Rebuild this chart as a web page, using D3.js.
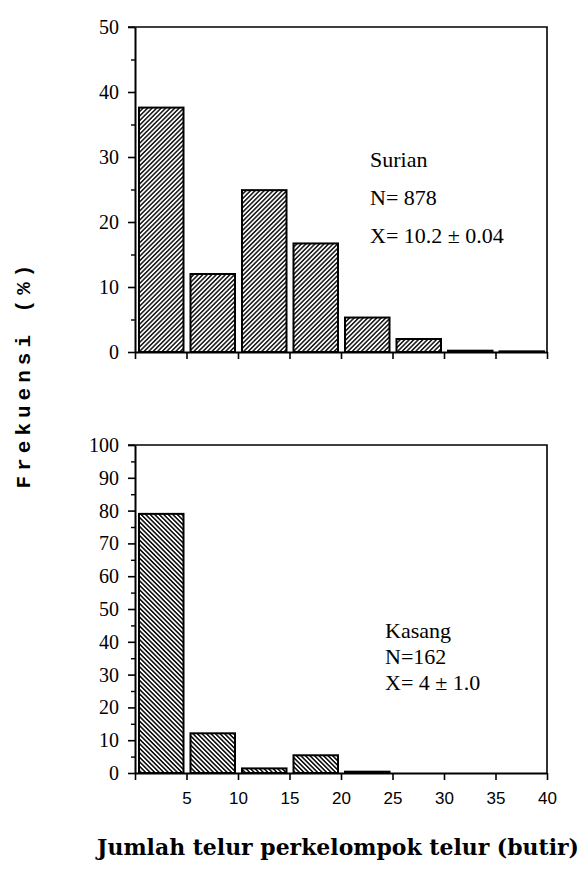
<!DOCTYPE html>
<html>
<head>
<meta charset="utf-8">
<script src="https://cdn.jsdelivr.net/npm/d3@7"></script>
<style>
  body { margin: 0; background: #fff; }
  svg { display: block; }
</style>
</head>
<body>
<svg id="chart" width="582" height="871"></svg>
<script>
// class edges (eggs per egg cluster)
const binEdges = [0, 5, 10, 15, 20, 25, 30, 35, 40];
const xTickLabels = ['', '5', '10', '15', '20', '25', '30', '35', '40'];

// frequency (%) per class
const surianValues = [37.6, 12.0, 24.9, 16.7, 5.3, 2.0, 0.2, 0.1];
const kasangValues = [79.0, 12.1, 1.4, 5.4, 0.4, 0, 0, 0];

const surianText = ['Surian', 'N= 878', 'X= 10.2 ± 0.04'];
const kasangText = ['Kasang', 'N=162', 'X= 4 ± 1.0'];

const svg = d3.select('#chart');

// hatching patterns
const defs = svg.append('defs');
function hatch(id, angle, w, sw) {
  defs.append('pattern')
    .attr('id', id)
    .attr('patternUnits', 'userSpaceOnUse')
    .attr('width', w)
    .attr('height', w)
    .attr('patternTransform', `rotate(${angle})`)
    .append('line')
    .attr('x1', w / 2).attr('y1', 0)
    .attr('x2', w / 2).attr('y2', w)
    .attr('stroke', '#000')
    .attr('stroke-width', sw);
}
hatch('fwd', 45, 3.2, 1.4);
hatch('back', -45, 3.2, 1.5);

const x = d3.scaleLinear().domain([0, 40]).range([135, 547]);

function panel(opts) {
  const { values, yMax, yRange, majors, minors, pattern, labels, labelPos, showXLabels } = opts;
  const y = d3.scaleLinear().domain([0, yMax]).range(yRange);
  const g = svg.append('g');

  // frame (top and right edges)
  g.append('path')
    .attr('d', `M${x(0) - 7},${y(yMax)} H${x(40)} V${y(0)}`)
    .attr('fill', 'none')
    .attr('stroke', '#000')
    .attr('stroke-width', 1.6);

  // bars
  g.selectAll('.bar')
    .data(values)
    .enter().append('rect')
    .attr('class', 'bar')
    .attr('x', (d, i) => x(binEdges[i]) + 4)
    .attr('width', (d, i) => x(binEdges[i + 1]) - x(binEdges[i]) - 7)
    .attr('y', d => y(d))
    .attr('height', d => y(0) - y(d))
    .attr('fill', `url(#${pattern})`)
    .attr('stroke', '#000')
    .attr('stroke-width', d => d > 0 ? 2 : 0);

  // y axis, major + minor ticks
  const yAxis = g.append('g')
    .attr('transform', `translate(${x(0)},0)`)
    .call(d3.axisLeft(y).tickValues(majors).tickSize(7).tickPadding(9).tickSizeOuter(0));
  yAxis.select('.domain').attr('stroke-width', 2);
  yAxis.selectAll('.tick line').attr('stroke-width', 1.6);
  yAxis.selectAll('text')
    .style('font-family', '"Liberation Serif", serif')
    .style('font-size', '20px')
    .attr('fill', '#000');

  g.append('g')
    .attr('transform', `translate(${x(0)},0)`)
    .call(d3.axisLeft(y).tickValues(minors).tickSize(4).tickFormat('').tickSizeOuter(0))
    .call(a => a.select('.domain').remove())
    .selectAll('.tick line').attr('stroke-width', 1.4);

  // x axis
  const xAxis = g.append('g')
    .attr('transform', `translate(0,${y(0)})`)
    .call(d3.axisBottom(x).tickValues(binEdges).tickSize(7).tickPadding(12).tickSizeOuter(0)
      .tickFormat((d, i) => showXLabels ? xTickLabels[i] : ''));
  xAxis.select('.domain').attr('stroke-width', 2.2);
  xAxis.selectAll('.tick line').attr('stroke-width', 1.6);
  xAxis.selectAll('text')
    .style('font-family', '"Liberation Sans", sans-serif')
    .style('font-size', '17px')
    .attr('fill', '#000');

  // annotation
  g.selectAll('.note')
    .data(labels)
    .enter().append('text')
    .attr('class', 'note')
    .attr('x', labelPos.x)
    .attr('y', (d, i) => labelPos.y + i * labelPos.dy)
    .style('font-family', '"Liberation Serif", serif')
    .style('font-size', '22px')
    .text(d => d);
}

panel({
  values: surianValues,
  yMax: 50,
  yRange: [352, 27],
  majors: d3.range(0, 51, 10),
  minors: d3.range(5, 50, 10),
  pattern: 'fwd',
  labels: surianText,
  labelPos: { x: 370, y: 167, dy: 38 },
  showXLabels: false
});

panel({
  values: kasangValues,
  yMax: 100,
  yRange: [773, 445],
  majors: d3.range(0, 101, 10),
  minors: d3.range(5, 100, 10),
  pattern: 'back',
  labels: kasangText,
  labelPos: { x: 385, y: 638, dy: 26 },
  showXLabels: true
});

// axis titles
svg.append('text')
  .attr('transform', 'translate(30,374) rotate(-90)')
  .attr('text-anchor', 'middle')
  .style('font-family', '"Liberation Mono", monospace')
  .style('font-weight', 'bold')
  .style('font-size', '21px')
  .style('letter-spacing', '5px')
  .text('Frekuensi (%)');

const xTitle = svg.append('text')
  .attr('x', 338)
  .attr('y', 855)
  .attr('text-anchor', 'middle')
  .style('font-family', '"DejaVu Serif", serif')
  .style('font-weight', 'bold')
  .style('font-size', '20px')
  .text('Jumlah telur perkelompok telur (butir)');
const tw = xTitle.node().getComputedTextLength();
xTitle.style('font-size', `${20 * 482 / tw}px`);
</script>
</body>
</html>
